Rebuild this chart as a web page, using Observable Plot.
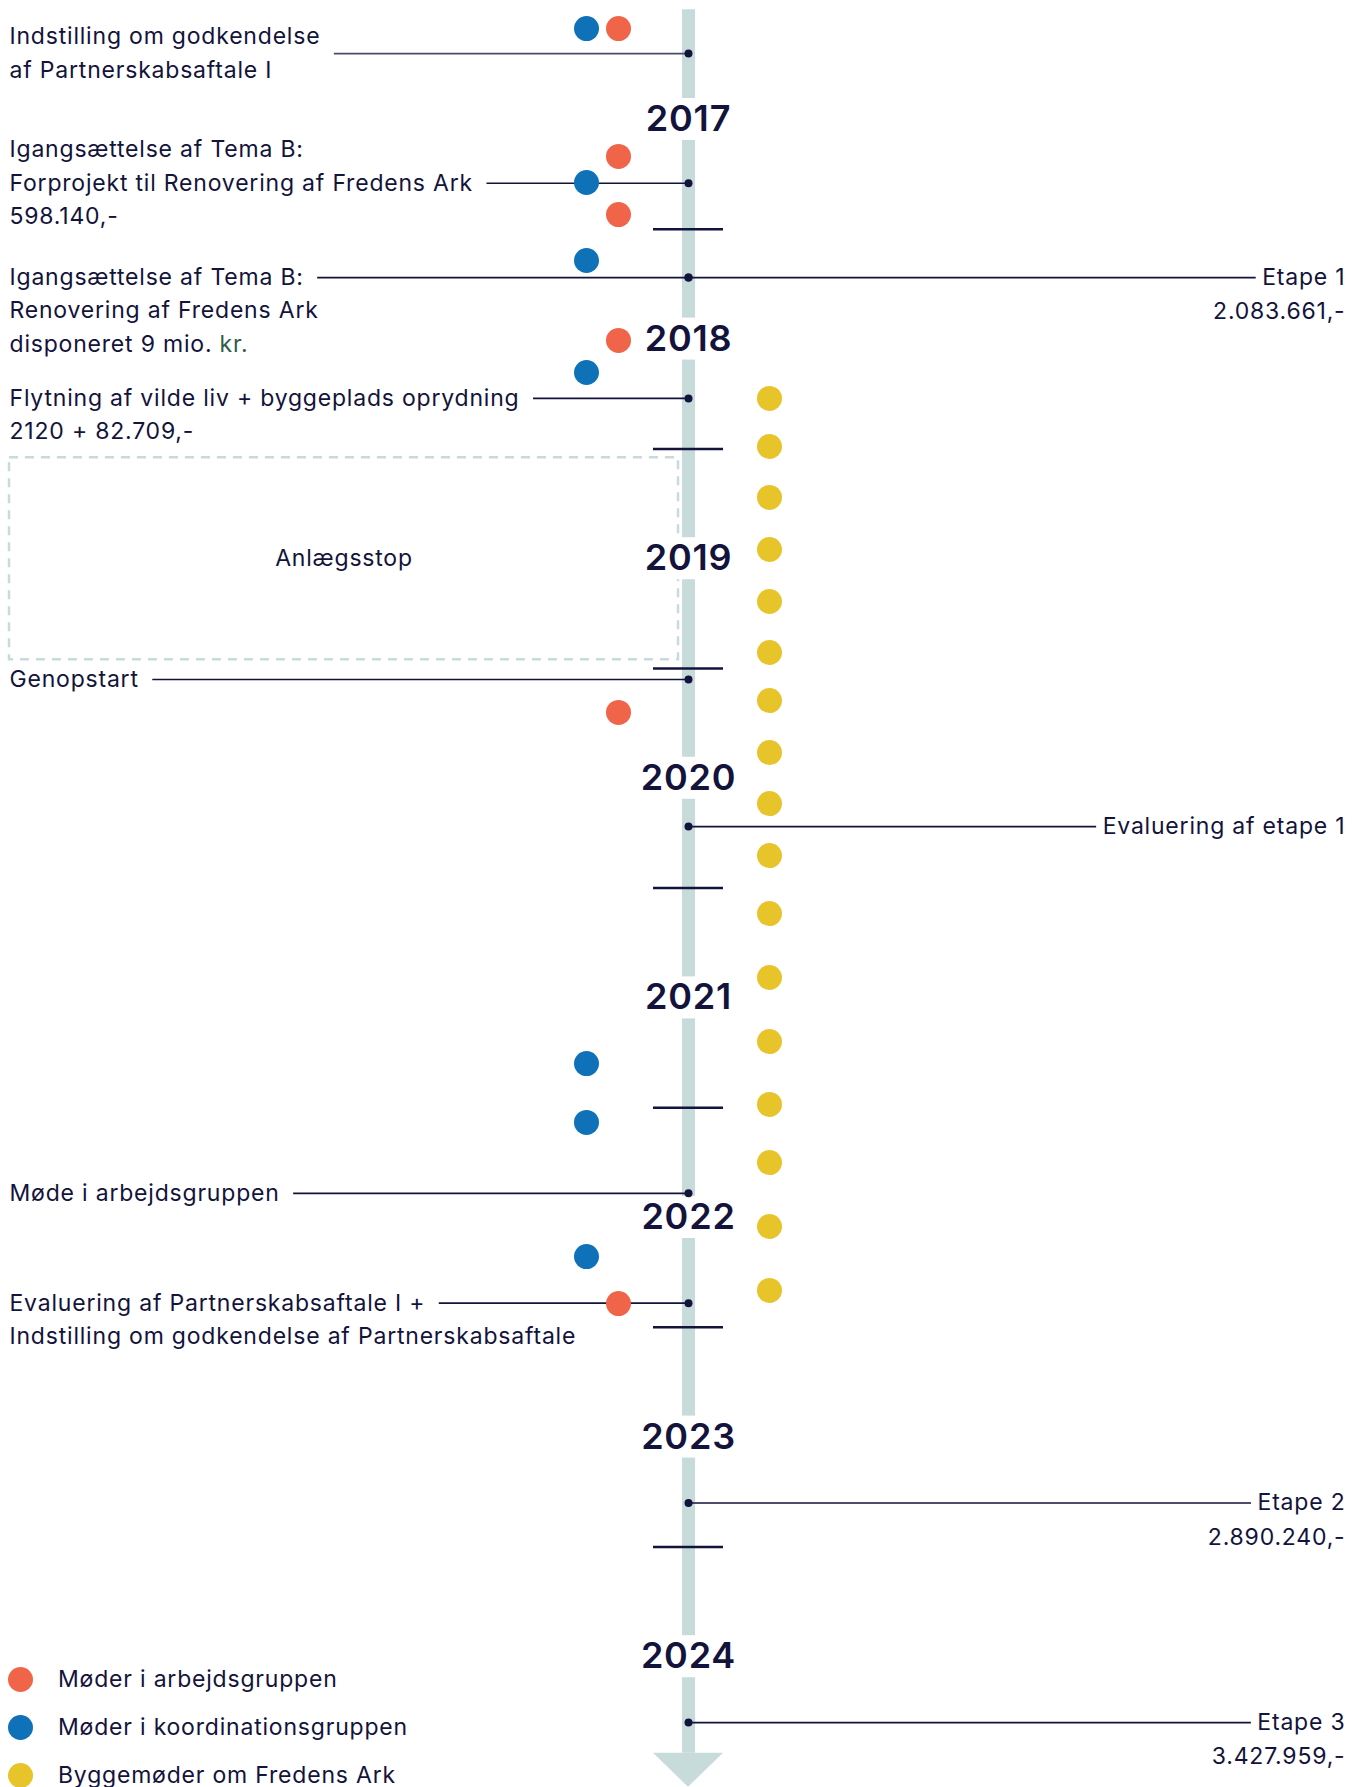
<!DOCTYPE html>
<html>
<head>
<meta charset="utf-8">
<script src="https://cdn.jsdelivr.net/npm/d3@7"></script>
<script src="https://cdn.jsdelivr.net/npm/@observablehq/plot@0.6"></script>
<style>
  html, body { margin: 0; padding: 0; background: #fff; overflow: hidden; }
  #wrap { position: relative; width: 1365px; height: 1787px; overflow: hidden; }
  #chart svg text { letter-spacing: 0.8px; }
  #legend { position: absolute; left: 0; top: 1655px; font-family: Inter, sans-serif; font-size: 23px; letter-spacing: 0.8px; color: #13133b; }
  .item { display: flex; align-items: center; height: 48px; }
  .sw { width: 25px; height: 25px; border-radius: 50%; margin-left: 8px; margin-right: 25px; flex: none; }
</style>
</head>
<body>
<div id="wrap"><div id="chart"></div><div id="legend"></div></div>
<script>
// ---------- DATA ----------
const years = [2017, 2018, 2019, 2020, 2021, 2022, 2023, 2024];
const halfYearTicks = [2017.5, 2018.5, 2019.5, 2020.5, 2021.5, 2022.5, 2023.5];
const timelineStart = 2016.5;
const timelineEnd = 2024.44;

const pauseLabel = "Anlægsstop";
const pauseStart = 2018.54;
const pauseEnd = 2019.46;

const leftEventDates = [2016.70, 2017.29, 2017.72, 2018.27, 2019.55, 2021.89, 2022.39];
const leftEventTexts = [
  "Indstilling om godkendelse\naf Partnerskabsaftale I",
  "Igangsættelse af Tema B:\nForprojekt til Renovering af Fredens Ark\n598.140,-",
  "Igangsættelse af Tema B:\nRenovering af Fredens Ark\ndisponeret 9 mio. kr.",
  "Flytning af vilde liv + byggeplads oprydning\n2120 + 82.709,-",
  "Genopstart",
  "Møde i arbejdsgruppen",
  "Evaluering af Partnerskabsaftale I +\nIndstilling om godkendelse af Partnerskabsaftale"
];
const rightEventDates = [2017.72, 2020.22, 2023.30, 2024.30];
const rightEventTexts = [
  "Etape 1\n2.083.661,-",
  "Evaluering af etape 1",
  "Etape 2\n2.890.240,-",
  "Etape 3\n3.427.959,-"
];

const groupNames = ["Møder i arbejdsgruppen", "Møder i koordinationsgruppen", "Byggemøder om Fredens Ark"];
const arbejdsgruppeDates = [2016.586, 2017.168, 2017.433, 2018.006, 2019.700, 2022.392];
const koordinationDates = [2016.586, 2017.287, 2017.642, 2018.152, 2021.299, 2021.567, 2022.178];
const byggemoedeDates = [2018.270, 2018.489, 2018.721, 2018.958, 2019.195, 2019.427, 2019.646, 2019.883,
  2020.115, 2020.352, 2020.616, 2020.907, 2021.199, 2021.485, 2021.750, 2022.041, 2022.332];

// ---------- LAYOUT / STYLE ----------
const W = 1365, H = 1787;
const Y0 = 119, PX_PER_YEAR = 219.6;
const px = p => p / PX_PER_YEAR;           // pixel offset -> years
const AXIS_X = 688;
const LEFT_X = 9, RIGHT_X = 1345;
const LANE = {[groupNames[0]]: 618, [groupNames[1]]: 586, [groupNames[2]]: 769};
const COLORS = {[groupNames[0]]: "#f0654a", [groupNames[1]]: "#0f72b9", [groupNames[2]]: "#e8c42b"};
const NAVY = "#13133b", AXIS_C = "#c7dcda", GREEN = "#2f5d45";
const FS = 23, LS = 0.8, LINE = 33.5;
const FONT = "Inter, sans-serif";
const connectorLine = [0.5, 1, 0, 0, 0, 0, 0];

const ctx = document.createElement("canvas").getContext("2d");
ctx.font = `${FS}px Inter`;
const tw = s => ctx.measureText(s).width + LS * s.length;

// ---------- DERIVED TABLES ----------
const leftRows = [], leftConnectors = [];
leftEventTexts.forEach((txt, i) => {
  const lines = txt.split("\n");
  const a = connectorLine[i];
  lines.forEach((ln, k) => {
    const y = leftEventDates[i] + px((k - a) * LINE);
    if (ln.endsWith(" kr.")) {
      const head = ln.slice(0, -3);
      leftRows.push({x: LEFT_X, y, text: head.trim(), fill: NAVY});
      leftRows.push({x: LEFT_X + tw(head), y, text: "kr.", fill: GREEN});
    } else {
      leftRows.push({x: LEFT_X, y, text: ln, fill: NAVY});
    }
  });
  const refLine = lines[Math.floor(a)];
  leftConnectors.push({y: leftEventDates[i], x1: LEFT_X + tw(refLine) + 14, x2: AXIS_X,
    stroke: i === 0 ? "#4a4a6a" : NAVY});
});

const rightRows = [], rightConnectors = [];
rightEventTexts.forEach((txt, i) => {
  const lines = txt.split("\n");
  lines.forEach((ln, k) => rightRows.push({y: rightEventDates[i] + px(k * 34.5), text: ln}));
  rightConnectors.push({y: rightEventDates[i], x1: AXIS_X, x2: RIGHT_X - tw(lines[0]) - 6});
});

const meetings = [
  ...arbejdsgruppeDates.map(d => ({group: groupNames[0], date: d})),
  ...koordinationDates.map(d => ({group: groupNames[1], date: d})),
  ...byggemoedeDates.map(d => ({group: groupNames[2], date: d}))
];

const arrow = [
  {t: timelineEnd, half: 35},
  {t: timelineEnd + px(34), half: 0}
];

const endpoints = [...leftEventDates, ...rightEventDates];
const yearGap = px(21);

const plot = Plot.plot({
  width: W, height: H,
  margin: 0, marginTop: 0, marginRight: 0, marginBottom: 0, marginLeft: 0,
  x: {domain: [0, W], range: [0, W], axis: null},
  y: {domain: [2017, 2024], range: [Y0, Y0 + 7 * PX_PER_YEAR], axis: null},
  color: {type: "identity"},
  style: {fontFamily: FONT, background: "white", overflow: "visible"},
  marks: [
    Plot.ruleX([0], {x: AXIS_X, y1: timelineStart, y2: timelineEnd, stroke: AXIS_C, strokeWidth: 13}),
    Plot.areaX(arrow, {y: "t", x1: d => AXIS_X - d.half, x2: d => AXIS_X + d.half, fill: AXIS_C, curve: "linear"}),
    Plot.rect([0], {x1: LEFT_X, x2: AXIS_X - 10, y1: pauseStart, y2: pauseEnd, fill: "none",
      stroke: AXIS_C, strokeWidth: 2.5, strokeDasharray: "9,7"}),
    Plot.text([pauseLabel], {x: (LEFT_X + AXIS_X - 10) / 2, y: (pauseStart + pauseEnd) / 2, text: d => d,
      fontSize: FS, fill: NAVY}),
    Plot.rect(years, {x1: AXIS_X - 46, x2: AXIS_X + 46, y1: d => d - yearGap, y2: d => d + yearGap, fill: "white"}),
    Plot.text(years, {x: AXIS_X, y: d => d, text: d => String(d), fontSize: 36, fontWeight: 600, fill: NAVY}),
    Plot.ruleY(halfYearTicks, {y: d => d, x1: AXIS_X - 35, x2: AXIS_X + 35, stroke: NAVY, strokeWidth: 2.5}),
    Plot.ruleY(leftConnectors, {y: "y", x1: "x1", x2: "x2", stroke: "stroke", strokeWidth: 1.6}),
    Plot.ruleY(rightConnectors, {y: "y", x1: "x1", x2: "x2", stroke: NAVY, strokeWidth: 1.6}),
    Plot.dot(endpoints, {x: AXIS_X, y: d => d, r: 4, fill: NAVY}),
    Plot.text(leftRows, {x: "x", y: "y", text: "text", fill: "fill", textAnchor: "start", fontSize: FS}),
    Plot.text(rightRows, {x: RIGHT_X, y: "y", text: "text", fill: NAVY, textAnchor: "end", fontSize: FS}),
    Plot.dot(meetings, {x: d => LANE[d.group], y: "date", r: 12.5, fill: d => COLORS[d.group]})
  ]
});
document.getElementById("chart").appendChild(plot);

const legend = document.getElementById("legend");
groupNames.forEach(g => {
  const it = document.createElement("div");
  it.className = "item";
  it.innerHTML = `<span class="sw" style="background:${COLORS[g]}"></span><span>${g}</span>`;
  legend.appendChild(it);
});
</script>
</body>
</html>
